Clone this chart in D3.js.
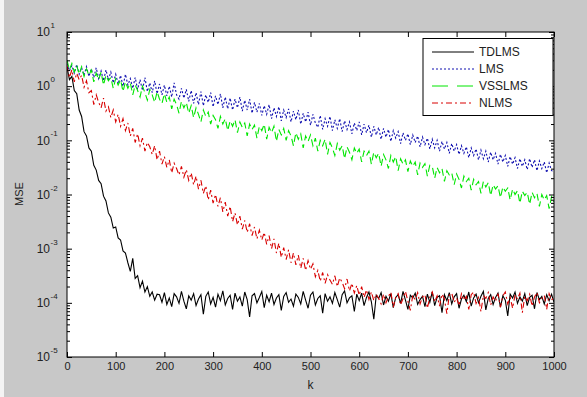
<!DOCTYPE html>
<html>
<head>
<meta charset="utf-8">
<script src="https://cdn.jsdelivr.net/npm/d3@7"></script>
<style>
  html, body { margin: 0; padding: 0; background: #c8c8c8; overflow: hidden; }
  svg { display: block; width: 100vw; height: 100vh; font-family: "Liberation Sans", Arial, sans-serif; }
</style>
</head>
<body>
<div id="chart"></div>
<script>
// Samples are every kStep iterations, values are log10(MSE).
const kStep = 5;
const seriesNames = ["TDLMS", "LMS", "VSSLMS", "NLMS"];
const xTicks = [0, 100, 200, 300, 400, 500, 600, 700, 800, 900, 1000];
const yDecades = [-5, -4, -3, -2, -1, 0, 1];

const tdlms = [
  0.35, 0.12, 0.18, -0.08, -0.14, -0.44, -0.56, -0.84, -0.92, -1.14,
  -1.2, -1.46, -1.55, -1.74, -1.8, -2.03, -2.12, -2.34, -2.42, -2.62,
  -2.6, -2.8, -2.84, -3.04, -3.08, -3.26, -3.42, -3.18, -3.55, -3.5,
  -3.72, -3.6, -3.8, -3.7, -3.88, -3.8, -3.95, -3.84,
  -3.85, -3.99, -3.81, -4.03, -3.91, -4.07, -3.83, -3.89, -4.01, -3.79,
  -3.97, -4.11, -3.87, -3.95, -3.83, -4.05, -3.93, -3.85, -4.21, -3.88,
  -3.8, -4.02, -3.9, -4.08, -3.84, -3.96, -3.78, -4.04, -3.92, -3.86,
  -4.12, -3.82, -3.97, -3.89, -4.06, -3.8, -3.94, -4.26, -3.87, -3.83,
  -4.0, -3.9, -3.79, -4.09, -3.86, -3.98, -3.82, -4.03, -3.91, -3.85,
  -4.14, -3.88, -3.81, -3.99, -3.93, -4.06, -3.84, -3.9, -4.02, -3.79,
  -3.95, -4.1, -3.86, -3.8, -4.04, -3.92, -3.87, -4.19, -3.83, -3.97,
  -3.89, -4.01, -3.81, -3.94, -4.08, -3.85, -3.78, -4.0, -3.91, -3.87,
  -4.16, -3.84, -3.96, -3.82, -4.05, -3.9, -3.8, -3.98, -4.3, -3.86,
  -3.92, -3.81, -4.04, -3.88, -3.97, -3.83, -4.09, -3.9, -3.85, -4.01,
  -3.79, -3.95, -4.12, -3.86, -3.91, -3.82, -4.03, -3.94, -3.88, -4.07,
  -3.84, -3.99, -3.8, -4.05, -3.9, -3.87, -4.18, -3.85, -3.96, -3.81,
  -4.02, -3.89, -3.83, -4.1, -3.93, -3.86, -3.98, -3.8, -4.06, -3.91,
  -3.84, -4.0, -3.88, -3.79, -4.13, -3.92, -3.85, -4.03, -3.9, -3.82,
  -4.08, -3.87, -3.95, -4.24, -3.84, -3.91, -3.8, -4.01, -3.89, -3.97,
  -3.83, -4.05, -3.9, -3.86, -4.11, -3.81, -3.94, -3.88, -4.02, -3.85,
  -3.96, -3.84, -3.99
];

const lms = [
  0.42, 0.28, 0.38, 0.24, 0.4, 0.22, 0.34, 0.2, 0.36, 0.18,
  0.32, 0.16, 0.34, 0.14, 0.28, 0.1, 0.3, 0.12, 0.26, 0.06,
  0.22, 0.04, 0.2, 0.0, 0.22, 0.02, 0.14, -0.04, 0.16, -0.06,
  0.12, -0.08, 0.16, -0.1, 0.06, -0.12, 0.1, -0.14, 0.04, -0.16,
  0.02, -0.18, 0.0, -0.2, 0.06, -0.16, -0.24, -0.04, -0.22, -0.06,
  -0.28, -0.08, -0.32, -0.12, -0.34, -0.1, -0.36, -0.16, -0.3, -0.12,
  -0.38, -0.18, -0.34, -0.14, -0.4, -0.2, -0.42, -0.22, -0.44, -0.24,
  -0.4, -0.2, -0.46, -0.26, -0.44, -0.24, -0.5, -0.3, -0.48, -0.32,
  -0.54, -0.36, -0.52, -0.34, -0.6, -0.4, -0.56, -0.38, -0.64, -0.44,
  -0.58, -0.42, -0.66, -0.46, -0.62, -0.44, -0.7, -0.5, -0.66, -0.48,
  -0.72, -0.52, -0.68, -0.76, -0.54, -0.8, -0.6, -0.74, -0.56, -0.82,
  -0.62, -0.78, -0.6, -0.84, -0.64, -0.8, -0.66, -0.88, -0.68, -0.82,
  -0.66, -0.9, -0.7, -0.86, -0.72, -0.94, -0.74, -0.9, -0.76, -0.98,
  -0.78, -0.94, -0.8, -1.02, -0.82, -0.96, -0.84, -1.06, -0.86, -1.0,
  -0.88, -1.08, -0.9, -1.04, -0.92, -1.12, -0.94, -1.08, -0.96, -1.16,
  -0.98, -1.14, -1.0, -1.2, -1.02, -1.16, -1.04, -1.24, -1.06, -1.2,
  -1.08, -1.26, -1.1, -1.24, -1.12, -1.32, -1.14, -1.28, -1.16, -1.36,
  -1.18, -1.34, -1.2, -1.4, -1.22, -1.36, -1.24, -1.44, -1.26, -1.4,
  -1.28, -1.48, -1.3, -1.44, -1.32, -1.52, -1.34, -1.48, -1.36, -1.54,
  -1.34, -1.5, -1.36, -1.56, -1.38, -1.52, -1.4, -1.6, -1.42, -1.56,
  -1.58
];

const vsslms = [
  0.48, 0.3, 0.42, 0.26, 0.38, 0.22, 0.36, 0.18, 0.32, 0.2,
  0.3, 0.08, 0.24, 0.12, 0.26, 0.02, 0.2, 0.1, 0.16, -0.04,
  0.14, 0.02, 0.12, -0.1, 0.08, -0.04, 0.06, -0.16, 0.02, -0.08,
  -0.2, 0.0, -0.12, -0.26, -0.06, -0.16, -0.3, -0.1, -0.24, -0.32,
  -0.14, -0.3, -0.2, -0.42, -0.24, -0.34, -0.5, -0.28, -0.4, -0.3,
  -0.5, -0.36, -0.58, -0.4, -0.52, -0.66, -0.44, -0.56, -0.48, -0.7,
  -0.54, -0.62, -0.78, -0.56, -0.7, -0.6, -0.82, -0.64, -0.74, -0.62,
  -0.86, -0.66, -0.76, -0.68, -0.92, -0.7, -0.8, -0.72, -0.96, -0.74,
  -0.82, -0.7, -0.98, -0.76, -0.86, -0.74, -1.02, -0.8, -0.9, -0.78,
  -1.0, -0.82, -0.92, -1.1, -0.86, -0.98, -0.88, -1.14, -0.92, -1.02,
  -0.9, -1.1, -0.96, -1.2, -1.0, -1.1, -0.98, -1.26, -1.04, -1.14,
  -1.28, -1.06, -1.18, -1.1, -1.34, -1.12, -1.22, -1.36, -1.14, -1.24,
  -1.16, -1.4, -1.2, -1.28, -1.2, -1.44, -1.22, -1.32, -1.24, -1.48,
  -1.26, -1.36, -1.52, -1.28, -1.4, -1.3, -1.56, -1.34, -1.44, -1.36,
  -1.58, -1.38, -1.48, -1.4, -1.64, -1.42, -1.5, -1.43, -1.66, -1.46,
  -1.48, -1.7, -1.5, -1.6, -1.52, -1.76, -1.56, -1.64, -1.6, -1.82,
  -1.62, -1.72, -1.88, -1.66, -1.76, -1.7, -1.92, -1.72, -1.82, -1.76,
  -1.98, -1.76, -1.86, -1.78, -2.02, -1.82, -1.9, -1.84, -2.06, -1.86,
  -1.94, -1.88, -2.1, -1.9, -2.0, -1.93, -2.16, -1.94, -2.02, -1.96,
  -2.18, -1.96, -2.06, -1.98, -2.22, -2.0, -2.1, -2.02, -2.26, -2.04,
  -2.14
];

const nlms = [
  0.38, 0.16, 0.3, 0.08, 0.24, 0.12, 0.2, -0.02, 0.1, -0.12,
  -0.08, -0.34, -0.16, -0.3, -0.4, -0.22, -0.46, -0.38, -0.58, -0.44,
  -0.66, -0.52, -0.74, -0.6, -0.82, -0.68, -0.92, -0.78, -1.04, -0.88,
  -1.1, -0.96, -1.2, -1.04, -1.12, -1.26, -1.1, -1.36, -1.2, -1.44,
  -1.3, -1.5, -1.36, -1.6, -1.42, -1.52, -1.64, -1.48, -1.68, -1.54,
  -1.74, -1.6, -1.82, -1.66, -1.9, -1.74, -1.98, -1.84, -2.1, -1.92,
  -2.16, -2.0, -2.22, -2.06, -2.32, -2.14, -2.4, -2.22, -2.5, -2.34,
  -2.56, -2.4, -2.64, -2.48, -2.7, -2.54, -2.76, -2.6, -2.82, -2.66,
  -2.84, -2.7, -2.92, -2.76, -3.0, -2.82, -3.08, -2.9, -3.16, -2.98,
  -3.2, -3.02, -3.26, -3.08, -3.3, -3.12, -3.36, -3.18, -3.4, -3.22,
  -3.38, -3.28, -3.52, -3.4, -3.6, -3.44, -3.64, -3.48, -3.58, -3.66,
  -3.5, -3.7, -3.54, -3.62, -3.74, -3.56, -3.78, -3.64, -3.82, -3.68,
  -3.86, -3.7, -3.9, -3.76, -3.94, -3.8, -3.96, -3.84, -3.92, -4.02,
  -3.84, -4.0, -3.88, -3.8, -4.08, -3.9, -3.83, -4.04, -3.92, -3.79,
  -3.97, -4.14, -3.86, -3.94, -3.81, -4.02, -3.89, -3.85, -4.1, -3.9,
  -3.8, -3.98, -3.87, -4.06, -3.84, -3.93, -4.2, -3.86, -3.82, -3.99,
  -3.91, -4.05, -3.83, -3.95, -3.88, -4.12, -3.85, -3.8, -4.01, -3.9,
  -4.16, -3.86, -3.92, -3.81, -4.04, -3.89, -3.97, -3.83, -4.08, -3.87,
  -3.8, -4.02, -3.9, -4.1, -3.85, -3.93, -3.82, -4.18, -3.88, -3.96,
  -3.84, -4.06, -3.89, -3.81, -4.0, -3.92, -3.86, -4.12, -3.83, -3.95,
  -3.88
];

const seriesValues = [tdlms, lms, vsslms, nlms];
const seriesColors = ["#000000", "#1010b0", "#00e600", "#d80000"];
const seriesDash = ["none", "2,2", "7,4", "6,3,2,3"];

const W = 587, H = 397;
const margin = { top: 32, right: 33, bottom: 40, left: 67 };
const innerWidth = W - margin.left - margin.right;
const innerHeight = H - margin.top - margin.bottom;

const svg = d3.select("#chart").append("svg")
  .attr("viewBox", `0 0 ${W} ${H}`)
  .attr("preserveAspectRatio", "xMidYMid meet");

svg.append("rect").attr("width", W).attr("height", H).attr("fill", "#c8c8c8");
svg.append("rect").attr("width", 4).attr("height", H).attr("fill", "#f4f4f4");

const g = svg.append("g")
  .attr("transform", `translate(${margin.left},${margin.top})`);

g.append("rect")
  .attr("width", innerWidth)
  .attr("height", innerHeight)
  .attr("fill", "#ffffff");

const x = d3.scaleLinear().domain([0, 1000]).range([0, innerWidth]);
const y = d3.scaleLog().domain([1e-5, 10]).range([innerHeight, 0]);

g.append("clipPath").attr("id", "clip")
  .append("rect").attr("width", innerWidth).attr("height", innerHeight);

const line = d3.line()
  .x((d, i) => x(i * kStep))
  .y((d) => y(Math.pow(10, d)));

g.append("g")
  .attr("clip-path", "url(#clip)")
  .selectAll("path")
  .data(seriesValues)
  .join("path")
  .attr("d", (d) => line(d))
  .attr("fill", "none")
  .attr("stroke", (d, i) => seriesColors[i])
  .attr("stroke-width", 1.1)
  .attr("stroke-dasharray", (d, i) => seriesDash[i]);

// ticks (inward, on all four sides)
const majorY = yDecades.map((e) => Math.pow(10, e));
const minorY = [];
yDecades.slice(0, -1).forEach((e) => {
  for (let m = 2; m <= 9; m++) minorY.push(m * Math.pow(10, e));
});

function styleAxis(sel) {
  sel.select(".domain").remove();
  sel.selectAll("line").attr("stroke", "#000");
}

function ticksOnly(sel) {
  styleAxis(sel);
  sel.selectAll("text").remove();
}

g.append("g")
  .attr("transform", `translate(0,${innerHeight})`)
  .call(d3.axisBottom(x).tickValues(xTicks).tickSize(-5).tickPadding(5)
    .tickFormat(d3.format("d")))
  .call(styleAxis)
  .selectAll("text")
  .attr("font-size", 11)
  .attr("fill", "#222");

g.append("g")
  .call(d3.axisTop(x).tickValues(xTicks).tickSize(-5))
  .call(ticksOnly);

g.append("g")
  .call(d3.axisLeft(y).tickValues(majorY).tickSize(-5))
  .call(ticksOnly);
g.append("g")
  .call(d3.axisLeft(y).tickValues(minorY).tickSize(-3))
  .call(ticksOnly);
g.append("g")
  .attr("transform", `translate(${innerWidth},0)`)
  .call(d3.axisRight(y).tickValues(majorY).tickSize(-5))
  .call(ticksOnly);
g.append("g")
  .attr("transform", `translate(${innerWidth},0)`)
  .call(d3.axisRight(y).tickValues(minorY).tickSize(-3))
  .call(ticksOnly);

// y labels as 10^n
const yLab = g.append("g").selectAll("g")
  .data(yDecades)
  .join("g")
  .attr("transform", (d) => `translate(-17,${y(Math.pow(10, d))})`);
yLab.append("text")
  .attr("text-anchor", "end")
  .attr("dy", "0.36em")
  .attr("font-size", 12)
  .attr("fill", "#222")
  .text("10");
yLab.append("text")
  .attr("x", 0.5)
  .attr("y", -4)
  .attr("font-size", 8)
  .attr("fill", "#222")
  .text((d) => (d < 0 ? "-" + Math.abs(d) : d));

g.append("rect")
  .attr("width", innerWidth)
  .attr("height", innerHeight)
  .attr("fill", "none")
  .attr("stroke", "#000")
  .attr("stroke-width", 1);

svg.append("text")
  .attr("x", margin.left + innerWidth / 2)
  .attr("y", 389)
  .attr("text-anchor", "middle")
  .attr("font-size", 12)
  .attr("fill", "#222")
  .text("k");

svg.append("text")
  .attr("transform", "translate(23,194) rotate(-90)")
  .attr("text-anchor", "middle")
  .attr("font-size", 11)
  .attr("fill", "#222")
  .text("MSE");

// legend
const legend = svg.append("g").attr("transform", "translate(423,38.5)");
legend.append("rect")
  .attr("width", 130)
  .attr("height", 77)
  .attr("fill", "#fff")
  .attr("stroke", "#000")
  .attr("stroke-width", 1);

const item = legend.selectAll("g.item")
  .data(seriesNames)
  .join("g")
  .attr("class", "item")
  .attr("transform", (d, i) => `translate(0,${13.5 + i * 17})`);
item.append("line")
  .attr("x1", 9)
  .attr("x2", 51)
  .attr("stroke", (d, i) => seriesColors[i])
  .attr("stroke-dasharray", (d, i) => (i === 2 ? "16,9" : seriesDash[i]));
item.append("text")
  .attr("x", 56)
  .attr("dy", "0.36em")
  .attr("font-size", 12)
  .attr("fill", "#222")
  .text((d) => d);
</script>
</body>
</html>
